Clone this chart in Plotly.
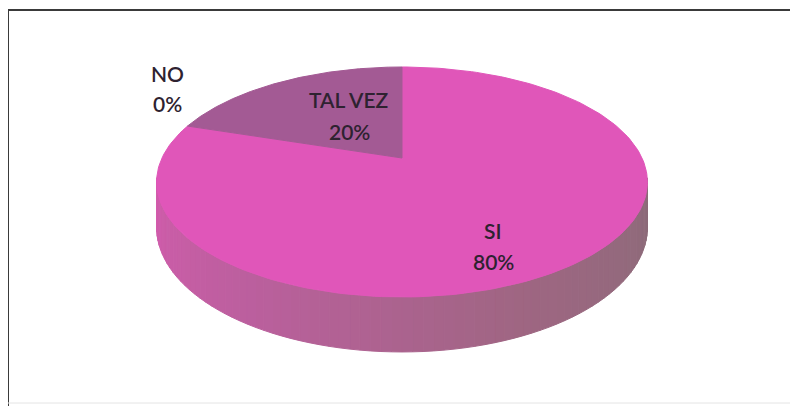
import numpy as np
import plotly.graph_objects as go

# ---- data ----
categories = ["SI", "NO", "TAL VEZ"]
values = [80, 0, 20]
pct_labels = ["80%", "0%", "20%"]

# ---- styling / geometry (page-pixel space) ----
OFF = 8                    # browser default body margin
W, H = 798, 406
CX, CY = 402, 158          # projected pie centre
RX, RY = 240, 110          # radii
K = 0.2086                 # perspective factor
DEPTH = 43.5               # side thickness
top_colors = {"SI": "#E056B9", "NO": "#8C5A8A", "TAL VEZ": "#A35A94"}
text_color = "#2E2230"
label_pos = {"SI": (493, 230, 493, 261),
             "NO": (167, 73, 167, 103),
             "TAL VEZ": (349, 99, 349, 131)}


def proj(theta_deg, r=1.0):
    t = np.radians(theta_deg)
    u = r * np.sin(t)
    v = -r * np.cos(t)
    s = 1.0 / (1.0 - K * v)
    return CX + RX * u * s, CY + RY * v * s, s


def lerp_color(c1, c2, f):
    a = [int(c1[i:i + 2], 16) for i in (1, 3, 5)]
    b = [int(c2[i:i + 2], 16) for i in (1, 3, 5)]
    c = [round(a[j] + (b[j] - a[j]) * f) for j in range(3)]
    return "rgb(%d,%d,%d)" % tuple(c)


fig = go.Figure()

# slice angles (clockwise from 12 o'clock)
total = float(sum(values))
starts, ends = [], []
acc = 0.0
for v in values:
    starts.append(acc / total * 360)
    acc += v
    ends.append(acc / total * 360)

# ---- side wall (visible front part) ----
side_lo, side_hi = 100.0, 260.0
n = 80
ths = np.linspace(side_lo, side_hi, n + 1)
stops = [(0.0, "#8A6C78"), (0.35, "#9E6682"), (0.7, "#BC5F9E"), (1.0, "#D25CAD")]


def grad(f):
    for i in range(len(stops) - 1):
        f0, c0 = stops[i]
        f1, c1 = stops[i + 1]
        if f <= f1:
            return lerp_color(c0, c1, (f - f0) / (f1 - f0))
    return lerp_color(stops[-2][1], stops[-1][1], 1.0)


for i in range(n):
    a, b = ths[i], ths[i + 1]
    xa, ya, sa = proj(a)
    xb, yb, sb = proj(b)
    col = grad((i + 0.5) / n)
    fig.add_trace(go.Scatter(
        x=[xa, xb, xb, xa, xa],
        y=[ya, yb, yb + DEPTH * sb, ya + DEPTH * sa, ya],
        mode="lines", fill="toself", fillcolor=col,
        line=dict(color=col, width=1), hoverinfo="skip", showlegend=False))

# ---- top faces ----
for cat, v, s0, s1 in zip(categories, values, starts, ends):
    if v <= 0:
        continue
    arc = np.linspace(s0, s1, 200)
    pts = [proj(t) for t in arc]
    xs = [CX] + [p[0] for p in pts] + [CX]
    ys = [CY] + [p[1] for p in pts] + [CY]
    fig.add_trace(go.Scatter(
        x=xs, y=ys, mode="lines", fill="toself",
        fillcolor=top_colors[cat], line=dict(color=top_colors[cat], width=1),
        name=cat, hoverinfo="name", showlegend=False))

# ---- labels ----
for cat, p in zip(categories, pct_labels):
    x1, y1, x2, y2 = label_pos[cat]
    for tx, xx, yy in ((cat, x1, y1), (p, x2, y2)):
        fig.add_annotation(x=xx, y=yy, text=tx, showarrow=False,
                           xanchor="center", yanchor="middle",
                           font=dict(family="Lato", size=21, color=text_color,
                                     weight=600))

# ---- frame ----
fig.add_shape(type="line", x0=8, y0=10, x1=797, y1=10,
              line=dict(color="#3a3a3a", width=2))
fig.add_shape(type="line", x0=8, y0=10, x1=8, y1=406,
              line=dict(color="#3a3a3a", width=2))
fig.add_shape(type="line", x0=797, y0=10, x1=797, y1=403,
              line=dict(color="#d8d8d8", width=1))
fig.add_shape(type="line", x0=8, y0=403, x1=797, y1=403,
              line=dict(color="#e4e4e4", width=1))

fig.update_xaxes(range=[OFF, W], visible=False, fixedrange=True)
fig.update_yaxes(range=[H, OFF], visible=False, fixedrange=True)
fig.update_layout(width=W - OFF, height=H - OFF,
                  margin=dict(l=0, r=0, t=0, b=0),
                  paper_bgcolor="white", plot_bgcolor="white")

fig.write_html("out.html")
